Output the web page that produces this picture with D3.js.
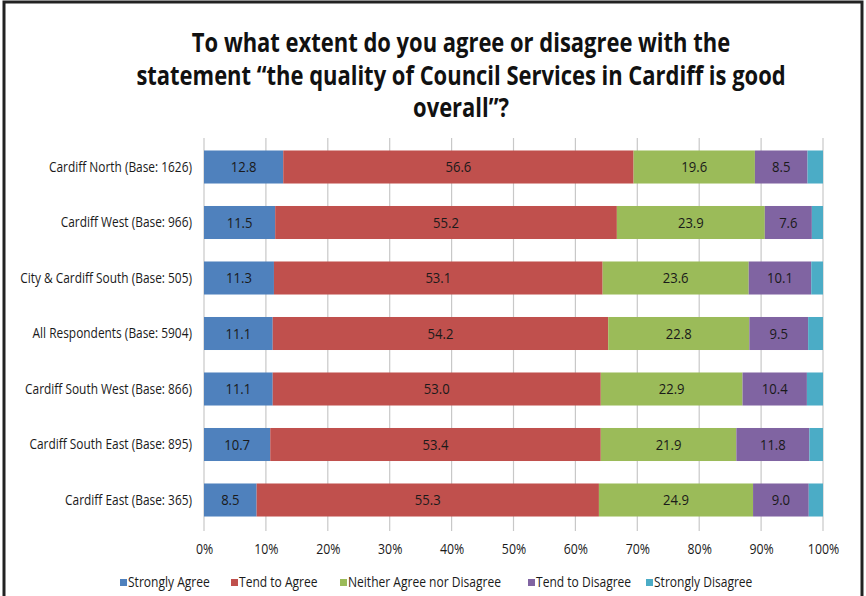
<!DOCTYPE html>
<html><head><meta charset="utf-8">
<script src="https://cdn.jsdelivr.net/npm/d3@7"></script>
<style>body{margin:0;background:#fff;} svg{display:block;}</style>
</head><body>
<script>
const categories = ["Cardiff North (Base: 1626)","Cardiff West (Base: 966)","City & Cardiff South (Base: 505)","All Respondents (Base: 5904)","Cardiff South West (Base: 866)","Cardiff South East (Base: 895)","Cardiff East (Base: 365)"];
const seriesNames = ["Strongly Agree","Tend to Agree","Neither Agree nor Disagree","Tend to Disagree","Strongly Disagree"];
const stronglyAgree = [12.8,11.5,11.3,11.1,11.1,10.7,8.5];
const tendToAgree = [56.6,55.2,53.1,54.2,53.0,53.4,55.3];
const neither = [19.6,23.9,23.6,22.8,22.9,21.9,24.9];
const tendToDisagree = [8.5,7.6,10.1,9.5,10.4,11.8,9.0];
const stronglyDisagree = [2.5,1.8,1.9,2.4,2.6,2.2,2.3];
const xTicks = [0,10,20,30,40,50,60,70,80,90,100];
const colors = ["#4F81BD","#C0504D","#9BBB59","#8064A2","#4BACC6"];
const titleLines = ["To what extent do you agree or disagree with the","statement \u201cthe quality of Council Services in Cardiff is good","overall\u201d?"];

const W=866,H=596;
const font = "'Open Sans',sans-serif";
function condense(sel, f){
  sel.each(function(){const n=this;const L=n.getComputedTextLength();
    d3.select(n).attr("textLength",L*f).attr("lengthAdjust","spacingAndGlyphs");});
}
const svg=d3.select("body").append("svg").attr("width",W).attr("height",H);
svg.append("rect").attr("width",W).attr("height",H).attr("fill","#fff");
svg.append("rect").attr("x",4).attr("y",2).attr("width",858).attr("height",H+10)
  .attr("fill","none").attr("stroke","#222").attr("stroke-width",3);

const tg=svg.append("g");
tg.selectAll("text").data(titleLines).join("text").attr("text-anchor","middle").attr("font-family",font)
  .attr("font-weight","bold").attr("font-size",26).attr("fill","#111")
  .attr("x",0).attr("y",0)
  .attr("transform",(d,i)=>`translate(461,${52+i*32.5}) scale(0.845,1)`).text(d=>d);

const x=d3.scaleLinear().domain([0,100]).range([204,823]);
const y=d3.scaleBand().domain(categories).range([138,529]).paddingInner(0.405).paddingOuter(0.225);
const series=[stronglyAgree,tendToAgree,neither,tendToDisagree,stronglyDisagree];
const rows=categories.map((c,i)=>{const o={cat:c};seriesNames.forEach((s,j)=>o[s]=series[j][i]);return o;});
const stack=d3.stack().keys(seriesNames)(rows);

// gridlines
svg.append("g").selectAll("line").data(xTicks).join("line")
  .attr("x1",d=>x(d)).attr("x2",d=>x(d)).attr("y1",138).attr("y2",531)
  .attr("stroke","#c8c8c8").attr("stroke-width",1.2);

const g=svg.append("g");
stack.forEach((s,j)=>{
  g.append("g").selectAll("rect").data(s).join("rect")
   .attr("x",d=>x(d[0])).attr("width",d=>x(d[1])-x(d[0]))
   .attr("y",d=>y(d.data.cat)).attr("height",y.bandwidth()).attr("fill",colors[j]);
  if(j<4){
    g.append("g").selectAll("text").data(s).join("text")
     .attr("x",d=>(x(d[0])+x(d[1]))/2).attr("y",d=>y(d.data.cat)+y.bandwidth()/2)
     .attr("dy","0.35em").attr("text-anchor","middle").attr("font-family",font)
     .attr("font-size",14.5).attr("fill","#1a1a1a").text(d=>(d[1]-d[0]).toFixed(1)).call(condense,0.9);
  }
});

// category labels
svg.append("g").selectAll("text").data(categories).join("text")
  .attr("x",192).attr("y",d=>y(d)+y.bandwidth()/2).attr("dy","0.35em")
  .attr("text-anchor","end").attr("font-family",font).attr("font-size",14).attr("fill","#1a1a1a").text(d=>d)
  .call(condense,0.85);

// x axis
const ax=svg.append("g").attr("transform","translate(0,531)")
  .call(d3.axisBottom(x).tickValues(xTicks).tickFormat(d=>d+"%").tickSize(0).tickPadding(13));
ax.select(".domain").remove();
ax.selectAll("text").attr("font-family",font).attr("font-size",14).attr("fill","#1a1a1a").call(condense,0.88);

// legend
const legendX=[120,231,340,528,646];
const lg=svg.append("g");
seriesNames.forEach((s,j)=>{
  lg.append("rect").attr("x",legendX[j]).attr("y",579).attr("width",7).attr("height",7).attr("fill",colors[j]);
  lg.append("text").attr("x",legendX[j]+8).attr("y",582).attr("dy","0.35em").attr("font-family",font)
    .attr("font-size",14).attr("fill","#1a1a1a").text(s).call(condense,0.86);
});
</script>
</body></html>
